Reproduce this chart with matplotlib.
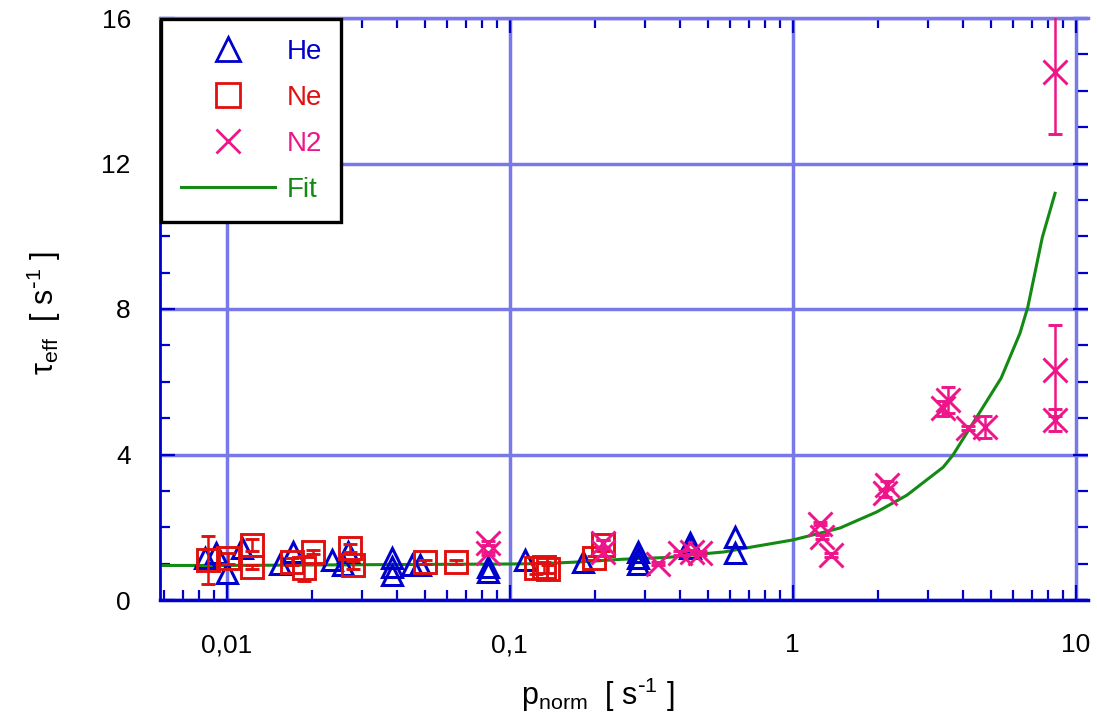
import matplotlib.pyplot as plt
from matplotlib.lines import Line2D
from matplotlib.ticker import LogLocator, NullFormatter, MultipleLocator

plt.rcParams['font.family'] = ['Liberation Sans', 'DejaVu Sans']
plt.rcParams['mathtext.default'] = 'regular'

# He (triangles)
he_x = [0.0084, 0.0092, 0.0100, 0.0113, 0.0154, 0.0171, 0.0236, 0.0268, 0.0258,
        0.0384, 0.0384, 0.0384, 0.0452, 0.0482, 0.0838, 0.0838, 0.113, 0.181,
        0.284, 0.284, 0.284, 0.434, 0.434, 0.625, 0.625]
he_y = [1.15, 1.29, 0.74, 1.43, 1.00, 1.32, 1.10, 1.32, 0.96,
        1.15, 0.92, 0.70, 0.96, 0.96, 0.90, 0.77, 1.10, 1.05,
        1.32, 1.15, 1.00, 1.56, 1.42, 1.73, 1.29]

# Ne (squares)
ne_x = [0.0086, 0.0101, 0.0123, 0.0123, 0.0170, 0.0188, 0.0201, 0.0272, 0.0280,
        0.0500, 0.0644, 0.124, 0.132, 0.136, 0.199, 0.214]
ne_y = [1.10, 1.15, 1.51, 0.90, 1.05, 0.87, 1.32, 1.43, 0.96,
        1.05, 1.05, 0.87, 0.90, 0.85, 1.15, 1.51]
ne_err = [0.66, 0.15, 0.17, 0.05, 0.10, 0.35, 0.05, 0.10, 0.10,
          0.05, 0.05, 0.15, 0.15, 0.10, 0.05, 0.15]

# N2 (crosses)
n2_x = [0.0838, 0.0838, 0.214, 0.214, 0.334, 0.40, 0.44, 0.47, 1.25, 1.27, 1.37,
        2.15, 2.12, 3.40, 3.54, 4.16, 4.78, 8.45, 8.45, 8.45]
n2_y = [1.56, 1.28, 1.56, 1.32, 1.00, 1.29, 1.32, 1.29, 2.10, 1.73, 1.23,
        3.16, 2.94, 5.27, 5.49, 4.73, 4.75, 4.95, 6.32, 14.51]
n2_err = [0.05, 0.05, 0.10, 0.10, 0.05, 0.05, 0.05, 0.05, 0.05, 0.05, 0.05,
          0.10, 0.10, 0.20, 0.36, 0.05, 0.30, 0.30, 1.25, 1.70]

# Fit curve
fit_x = [0.0058, 0.01, 0.03, 0.1, 0.13, 0.18, 0.25, 0.36, 0.5, 0.57, 0.72, 1.0,
         1.25, 1.47, 1.98, 2.53, 3.40, 3.68, 4.12, 4.70, 5.45, 6.35, 6.77, 7.62, 8.45]
fit_y = [0.95, 0.95, 0.97, 0.99, 1.00, 1.05, 1.12, 1.17, 1.28, 1.32, 1.46, 1.65,
         1.84, 1.98, 2.42, 2.88, 3.65, 3.98, 4.59, 5.30, 6.10, 7.33, 8.05, 9.97, 11.18]

BLUE = '#0000cc'
RED = '#e01010'
PINK = '#ee148a'
GREEN = '#138a13'
GRID = '#7878e8'

fig = plt.figure(figsize=(10.97, 7.26), dpi=100)
ax = fig.add_axes([160 / 1097, 1 - 600 / 726, 928 / 1097, 582 / 726])
ax.set_xscale('log')
ax.set_xlim(0.00581, 11.05)
ax.set_ylim(0, 16)
ax.set_axisbelow(True)

ax.grid(which='major', color=GRID, lw=2.5)
ax.grid(which='minor', visible=False)

ax.plot(fit_x, fit_y, color=GREEN, lw=2.2, zorder=2)
ax.plot(he_x, he_y, ls='none', marker='^', ms=15, mfc='none', mec=BLUE, mew=2.2, zorder=3)
ax.errorbar(ne_x, ne_y, yerr=ne_err, fmt='s', ms=16, mfc='none', mec=RED, mew=2.1,
            ecolor=RED, elinewidth=1.8, capsize=5, capthick=1.8, zorder=4)
ax.errorbar(n2_x, n2_y, yerr=n2_err, fmt='x', ms=17, mec=PINK, mew=2.1,
            ecolor=PINK, elinewidth=1.8, capsize=5, capthick=1.8, zorder=5)

ax.set_xticks([0.01, 0.1, 1, 10])
ax.set_xticklabels(['0,01', '0,1', '1', '10'])
ax.xaxis.set_minor_locator(LogLocator(base=10, subs=range(2, 10)))
ax.xaxis.set_minor_formatter(NullFormatter())
ax.set_yticks([0, 4, 8, 12, 16])
ax.yaxis.set_minor_locator(MultipleLocator(1))

ax.tick_params(which='both', direction='in', top=True, right=True, color=BLUE, width=1.6)
ax.tick_params(which='major', length=11)
ax.tick_params(which='minor', length=7)
ax.tick_params(axis='x', which='major', pad=24, labelsize=19)
ax.tick_params(axis='y', which='major', pad=21, labelsize=19)

ax.spines['left'].set_color(BLUE)
ax.spines['left'].set_linewidth(2)
ax.spines['bottom'].set_color(BLUE)
ax.spines['bottom'].set_linewidth(2.5)
ax.spines['top'].set_color(GRID)
ax.spines['top'].set_linewidth(2.5)
ax.spines['right'].set_visible(False)

ax.set_xlabel(r'p$_{norm}$  [ s$^{\text{-}1}$ ]', fontsize=22)
ax.xaxis.set_label_coords(0.472, -0.13)
ax.set_ylabel(r'$\tau_{eff}$  [ s$^{\text{-}1}$ ]', fontsize=22)
ax.yaxis.set_label_coords(-0.105, 0.493)

handles = [
    Line2D([], [], ls='none', marker='^', ms=17, mfc='none', mec=BLUE, mew=2),
    Line2D([], [], ls='none', marker='s', ms=17, mfc='none', mec=RED, mew=2),
    Line2D([], [], ls='none', marker='x', ms=17, mec=PINK, mew=2),
    Line2D([], [], color=GREEN, lw=2.2),
]
leg = ax.legend(handles, ['He', 'Ne', 'N2', 'Fit'], loc='upper left', bbox_to_anchor=(0, 1),
                borderaxespad=0.05, fancybox=False, edgecolor='black', framealpha=1,
                fontsize=20, handlelength=3.4, handletextpad=0.4, labelspacing=0.72,
                borderpad=0.7, labelcolor=[BLUE, RED, PINK, GREEN])
leg.get_frame().set_linewidth(2.4)
leg.set_zorder(10)

fig.savefig('out.png', dpi=100)
